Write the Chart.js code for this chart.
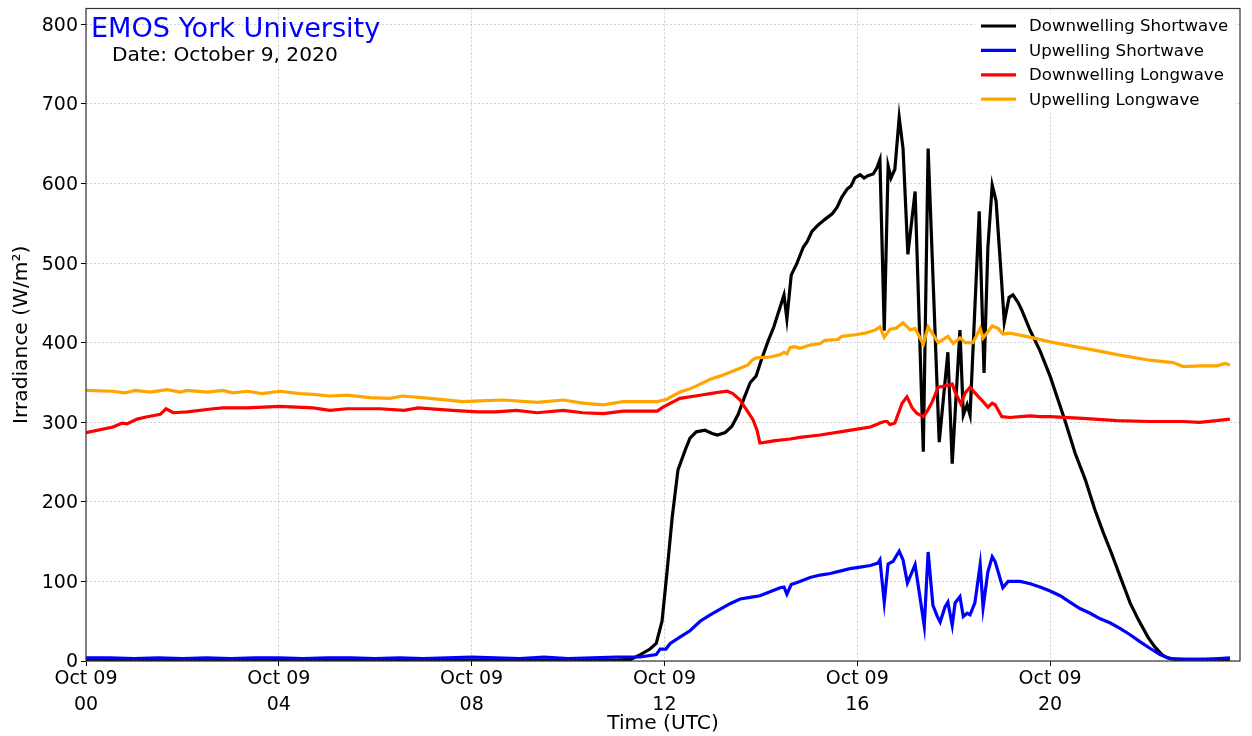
<!DOCTYPE html>
<html>
<head>
<meta charset="utf-8">
<title>EMOS York University – Radiation</title>
<script src="https://cdn.jsdelivr.net/npm/chart.js@4.4.1/dist/chart.umd.min.js"></script>
<style>
  html, body { margin: 0; padding: 0; background: #ffffff; }
  canvas { display: block; }
</style>
</head>
<body>
<canvas id="rad" width="1252" height="736"></canvas>
<script>
// Radiation components, Oct 9 2020 (UTC). Each entry: [hour of day, W/m²]
const swDown = [
  [0,1],[2,1],[4,1],[6,1],[8,1],[10,1],[11,1],[11.3,2],[11.5,8],[11.7,15],[11.83,22],[11.95,50],
  [12.05,110],[12.16,180],[12.28,240],[12.43,265],[12.53,280],[12.66,288],[12.84,290],[12.99,286],
  [13.1,284],[13.26,287],[13.4,295],[13.53,310],[13.65,330],[13.78,350],[13.9,358],[14.02,380],
  [14.15,402],[14.27,420],[14.4,445],[14.48,460],[14.54,430],[14.63,485],[14.75,500],[14.88,520],
  [14.96,527],[15.06,540],[15.19,548],[15.33,555],[15.48,562],[15.58,570],[15.68,583],[15.79,593],
  [15.87,597],[15.95,607],[16.06,611],[16.14,607],[16.22,610],[16.33,612],[16.41,620],[16.47,630],
  [16.56,415],[16.64,622],[16.7,607],[16.78,618],[16.87,683],[16.95,644],[17.05,511],[17.2,590],
  [17.37,263],[17.47,644],[17.7,275],[17.88,388],[17.97,248],[18.13,416],[18.2,309],[18.28,322],
  [18.34,309],[18.53,565],[18.63,362],[18.71,520],[18.8,598],[18.88,578],[18.98,490],[19.05,426],
  [19.15,457],[19.23,460],[19.34,450],[19.42,440],[19.59,415],[19.79,390],[20.0,358],[20.21,320],
  [20.31,302],[20.52,261],[20.73,228],[20.93,190],[21.1,162],[21.27,136],[21.48,102],[21.66,73],
  [21.83,52],[22.03,30],[22.17,18],[22.32,8],[22.43,4],[22.6,2],[23.0,2],[23.5,2],[23.73,2]
];

const swUp = [
  [0,4],[0.5,4],[1,3],[1.5,4],[2,3],[2.5,4],[3,3],[3.5,4],[4,4],[4.5,3],[5,4],[5.5,4],[6,3],
  [6.5,4],[7,3],[7.5,4],[8,5],[8.5,4],[9,3],[9.5,5],[10,3],[10.5,4],[11,5],[11.5,5],[11.83,8],
  [11.91,15],[12.03,15],[12.12,22],[12.32,30],[12.53,38],[12.74,50],[12.95,58],[13.15,65],
  [13.36,72],[13.57,78],[13.78,80],[13.98,82],[14.19,87],[14.4,92],[14.48,93],[14.54,84],
  [14.63,96],[14.81,100],[15.02,105],[15.23,108],[15.44,110],[15.64,113],[15.85,116],[16.06,118],
  [16.27,120],[16.43,123],[16.47,127],[16.56,74],[16.64,122],[16.74,125],[16.87,138],[16.95,127],
  [17.04,98],[17.2,121],[17.39,44],[17.47,137],[17.57,70],[17.66,56],[17.72,49],[17.82,68],
  [17.88,74],[17.97,45],[18.03,73],[18.13,81],[18.2,56],[18.28,60],[18.34,58],[18.44,73],
  [18.55,121],[18.61,67],[18.71,112],[18.8,131],[18.86,125],[19.02,92],[19.13,100],[19.23,100],
  [19.38,100],[19.59,97],[19.79,93],[20.0,88],[20.21,82],[20.41,74],[20.62,66],[20.83,60],
  [21.04,53],[21.24,48],[21.45,41],[21.66,33],[21.87,24],[22.07,16],[22.28,8],[22.49,3],
  [22.8,2],[23.2,2],[23.5,3],[23.73,4]
];

const lwDown = [
  [0,287],[0.56,294],[0.75,299],[0.85,298],[1.06,304],[1.27,307],[1.54,310],[1.66,317],[1.81,312],
  [2.1,313],[2.64,317],[2.84,318],[3.34,318],[4.02,320],[4.71,318],[5.06,315],[5.41,317],[6.1,317],
  [6.6,315],[6.89,318],[7.6,315],[8.13,313],[8.5,313],[8.93,315],[9.36,312],[9.9,315],[10.31,312],
  [10.73,311],[11.14,314],[11.85,314],[11.97,319],[12.32,330],[12.74,334],[12.95,336],[13.15,338],
  [13.3,339],[13.42,336],[13.57,328],[13.71,315],[13.84,303],[13.92,290],[13.98,274],[14.11,275],
  [14.3,277],[14.61,279],[14.81,281],[15.23,284],[15.64,288],[16.06,292],[16.27,294],[16.39,297],
  [16.47,299],[16.56,301],[16.62,301],[16.68,297],[16.78,299],[16.93,324],[17.03,332],[17.14,318],
  [17.24,311],[17.37,307],[17.47,316],[17.55,325],[17.68,344],[17.86,346],[17.97,348],[18.03,338],
  [18.15,323],[18.24,337],[18.34,344],[18.44,337],[18.61,326],[18.71,319],[18.8,324],[18.86,322],
  [19.0,307],[19.17,306],[19.38,307],[19.59,308],[19.79,307],[20.0,307],[20.68,305],[21.39,302],
  [22.07,301],[22.76,301],[23.1,300],[23.45,302],[23.73,304]
];

const lwUp = [
  [0,340],[0.56,339],[0.81,337],[1.02,340],[1.33,338],[1.68,341],[1.95,338],[2.1,340],[2.51,338],
  [2.84,340],[3.05,337],[3.34,339],[3.65,336],[4.02,339],[4.44,336],[4.71,335],[5.06,333],[5.41,334],
  [5.89,331],[6.31,330],[6.56,333],[7.14,330],[7.82,326],[8.17,327],[8.65,328],[9.36,325],[9.9,328],
  [10.31,324],[10.73,322],[11.14,326],[11.85,326],[12.05,329],[12.32,338],[12.53,342],[12.74,348],
  [12.95,354],[13.15,358],[13.36,363],[13.57,368],[13.73,372],[13.82,378],[13.9,381],[14.19,382],
  [14.4,385],[14.48,388],[14.54,386],[14.61,394],[14.71,395],[14.81,393],[15.02,397],[15.23,399],
  [15.33,403],[15.6,404],[15.68,408],[15.95,410],[16.16,412],[16.37,416],[16.47,420],[16.56,407],
  [16.68,417],[16.8,418],[16.95,425],[17.1,416],[17.2,418],[17.37,398],[17.47,420],[17.68,400],
  [17.88,408],[17.99,399],[18.13,406],[18.24,400],[18.4,400],[18.55,418],[18.61,406],[18.8,421],
  [18.92,418],[19.02,411],[19.17,412],[19.65,406],[20.0,401],[20.35,397],[20.89,391],[21.39,385],
  [22.07,378],[22.55,375],[22.76,370],[23.11,371],[23.46,371],[23.63,374],[23.73,372]
];

const seriesNames = ['Downwelling Shortwave', 'Upwelling Shortwave', 'Downwelling Longwave', 'Upwelling Longwave'];
const seriesColors = ['#000000', '#0000ff', '#ff0000', '#ffa500'];
const xTickHours = [0, 4, 8, 12, 16, 20];
const xTickDate = 'Oct 09';
const yTickValues = [0, 100, 200, 300, 400, 500, 600, 700, 800];
const titleText = 'EMOS York University';
const dateText = 'Date: October 9, 2020';

const FONT = 'DejaVu Sans';
const gridColor = 'rgba(150,150,150,0.55)';
const LINE_W = 3.2;

const toPoints = arr => arr.map(([x, y]) => ({ x, y }));

const datasets = [swDown, swUp, lwDown, lwUp].map((s, i) => ({
  label: seriesNames[i],
  data: toPoints(s),
  borderColor: seriesColors[i],
  backgroundColor: seriesColors[i],
  borderWidth: LINE_W,
  pointRadius: 0,
  tension: 0,
  fill: false,
  order: 3 - i            // later series drawn on top
}));

// Frame, in-plot legend and the station/date captions
const decorations = {
  id: 'decorations',
  afterDraw(chart) {
    const { ctx, chartArea: a } = chart;
    ctx.save();

    // plot frame
    ctx.strokeStyle = '#333333';
    ctx.lineWidth = 1.2;
    ctx.strokeRect(a.left, a.top, a.right - a.left, a.bottom - a.top);

    // captions
    ctx.textAlign = 'left';
    ctx.textBaseline = 'alphabetic';
    ctx.fillStyle = '#0000ff';
    ctx.font = `27.1px "${FONT}"`;
    ctx.fillText(titleText, a.left + 5, a.top + 28);
    ctx.fillStyle = '#000000';
    ctx.font = `20.2px "${FONT}"`;
    ctx.fillText(dateText, a.left + 26, a.top + 52);

    // legend
    const boxL = a.right - 265, boxT = a.top + 5;
    ctx.fillStyle = 'rgba(255,255,255,0.92)';
    ctx.fillRect(boxL, boxT, 260, 97);
    ctx.font = `16.6px "${FONT}"`;
    ctx.textBaseline = 'middle';
    chart.data.datasets.forEach((ds, i) => {
      const y = a.top + 17.5 + i * 24.4;
      ctx.strokeStyle = ds.borderColor;
      ctx.lineWidth = LINE_W;
      ctx.beginPath();
      ctx.moveTo(a.right - 259, y);
      ctx.lineTo(a.right - 224, y);
      ctx.stroke();
      ctx.fillStyle = '#000000';
      ctx.fillText(ds.label, a.right - 211, y + 1);
    });
    ctx.restore();
  }
};

new Chart(document.getElementById('rad'), {
  type: 'line',
  data: { datasets },
  plugins: [decorations],
  options: {
    responsive: false,
    animation: false,
    events: [],
    layout: { padding: { top: 8.5, right: 12, left: 0, bottom: 0 } },
    plugins: { legend: { display: false }, tooltip: { enabled: false } },
    scales: {
      x: {
        type: 'linear',
        min: 0,
        max: 23.94,
        afterBuildTicks: s => { s.ticks = xTickHours.map(v => ({ value: v })); },
        afterFit: s => { s.height = 75; s.paddingLeft = 0; s.paddingRight = 0; },
        ticks: {
          autoSkip: false,
          maxRotation: 0,
          padding: 0,
          color: '#000000',
          font: { family: FONT, size: 19, lineHeight: 1.38 },
          callback: v => [xTickDate, String(v).padStart(2, '0')]
        },
        grid: { color: gridColor, lineWidth: 0.8, tickLength: 5, tickColor: '#000000', tickWidth: 1 },
        border: { display: false, dash: [2, 2] },
        title: {
          display: true,
          text: 'Time (UTC)',
          color: '#000000',
          font: { family: FONT, size: 20.2 },
          padding: { top: 0, bottom: 0 }
        }
      },
      y: {
        type: 'linear',
        min: 0,
        max: 820,
        afterBuildTicks: s => { s.ticks = yTickValues.map(v => ({ value: v })); },
        afterFit: s => { s.width = 86; s.paddingTop = 0; s.paddingBottom = 0; },
        ticks: {
          padding: 3,
          labelOffset: 1.5,
          color: '#000000',
          font: { family: FONT, size: 19 }
        },
        grid: { color: gridColor, lineWidth: 0.8, tickLength: 5, tickColor: '#000000', tickWidth: 1 },
        border: { display: false, dash: [2, 2] },
        title: {
          display: true,
          text: 'Irradiance (W/m²)',
          color: '#000000',
          font: { family: FONT, size: 20.2 },
          padding: { top: 10, bottom: 0 }
        }
      }
    }
  }
});
</script>
</body>
</html>
